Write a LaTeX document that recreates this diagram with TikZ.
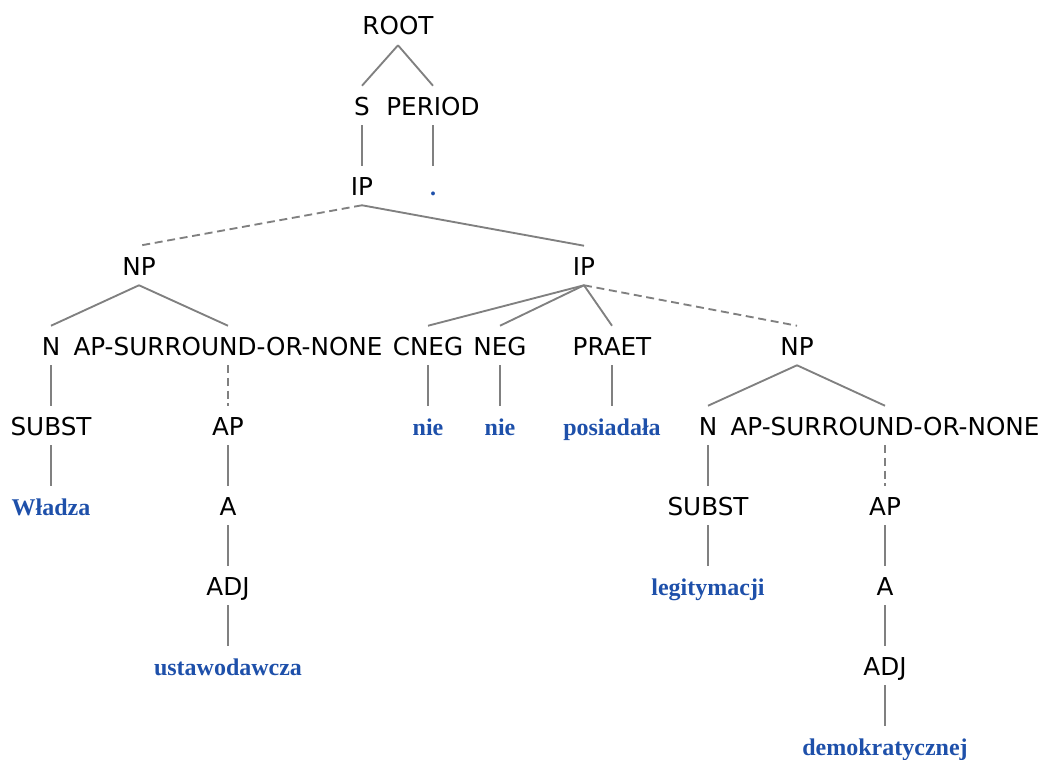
\documentclass[tikz,border=0pt]{standalone}
\usepackage{fontspec}
\setmainfont{DejaVu Sans}
\newfontfamily\wordfont{Liberation Serif}
\usepackage{tikz}
\usetikzlibrary{positioning}
\definecolor{wordblue}{RGB}{30,80,170}
\definecolor{edgegray}{RGB}{128,128,128}

\begin{document}
\begin{tikzpicture}[
  x=0.75pt, y=-0.75pt,
  cat/.style={anchor=base, inner xsep=2pt, inner ysep=7.5pt,
              text height=14.25pt, text depth=0pt,
              font=\fontsize{18.5}{20}\selectfont},
  wrd/.style={cat, text=wordblue, font=\wordfont\bfseries\fontsize{18}{20}\selectfont},
  br/.style={draw=edgegray, line width=1.4pt},
  dbr/.style={br, dash pattern=on 6pt off 3.5pt}
]
\useasboundingbox (0,0) rectangle (1040,760);

\node[cat] (root)   at (398,35) {ROOT};
\node[cat] (s)      at (362,115) {S};
\node[cat] (period) at (433,115) {PERIOD};
\node[cat] (ip)     at (362,195) {IP};
\node[wrd] (dot)    at (433,195) {.};

\node[cat] (npA) at (139,275) {NP};
\node[cat] (ipB) at (584,275) {IP};

\node[cat] (nA)    at (51,355)  {N};
\node[cat] (apsA)  at (228,355) {AP-SURROUND-OR-NONE};
\node[cat] (cneg)  at (428,355) {CNEG};
\node[cat] (neg)   at (500,355) {NEG};
\node[cat] (praet) at (612,355) {PRAET};
\node[cat] (npB)   at (797,355) {NP};

\node[cat] (substA)    at (51,435)  {SUBST};
\node[cat] (apA)       at (228,435) {AP};
\node[wrd] (nie1)      at (428,435) {nie};
\node[wrd] (nie2)      at (500,435) {nie};
\node[wrd] (posiadala) at (612,435) {posiadała};
\node[cat] (nB)        at (708,435) {N};
\node[cat] (apsB)      at (885,435) {AP-SURROUND-OR-NONE};

\node[wrd] (wladza) at (51,515)  {Władza};
\node[cat] (aA)     at (228,515) {A};
\node[cat] (substB) at (708,515) {SUBST};
\node[cat] (apB)    at (885,515) {AP};

\node[cat] (adjA)  at (228,595) {ADJ};
\node[wrd] (legit) at (708,595) {legitymacji};
\node[cat] (aB)    at (885,595) {A};

\node[wrd] (ustaw) at (228,675) {ustawodawcza};
\node[cat] (adjB)  at (885,675) {ADJ};

\node[wrd] (demok) at (885,755) {demokratycznej};

% branches
\draw[br] (root.south) -- (s.north);
\draw[br] (root.south) -- (period.north);
\draw[br] (s.south) -- (ip.north);
\draw[br] (period.south) -- (dot.north);
\draw[dbr] (ip.south) -- (npA.north);
\draw[br] (ip.south) -- (ipB.north);

\draw[br] (npA.south) -- (nA.north);
\draw[br] (npA.south) -- (apsA.north);
\draw[br] (ipB.south) -- (cneg.north);
\draw[br] (ipB.south) -- (neg.north);
\draw[br] (ipB.south) -- (praet.north);
\draw[dbr] (ipB.south) -- (npB.north);

\draw[br] (nA.south) -- (substA.north);
\draw[dbr] (apsA.south) -- (apA.north);
\draw[br] (cneg.south) -- (nie1.north);
\draw[br] (neg.south) -- (nie2.north);
\draw[br] (praet.south) -- (posiadala.north);
\draw[br] (npB.south) -- (nB.north);
\draw[br] (npB.south) -- (apsB.north);

\draw[br] (substA.south) -- (wladza.north);
\draw[br] (apA.south) -- (aA.north);
\draw[br] (nB.south) -- (substB.north);
\draw[dbr] (apsB.south) -- (apB.north);

\draw[br] (aA.south) -- (adjA.north);
\draw[br] (substB.south) -- (legit.north);
\draw[br] (apB.south) -- (aB.north);

\draw[br] (adjA.south) -- (ustaw.north);
\draw[br] (aB.south) -- (adjB.north);
\draw[br] (adjB.south) -- (demok.north);

\end{tikzpicture}
\end{document}
